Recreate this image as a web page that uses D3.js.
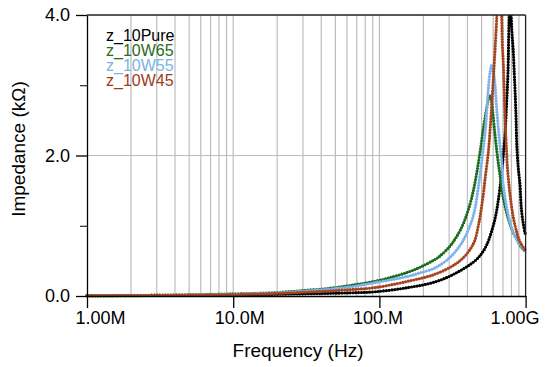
<!DOCTYPE html>
<html>
<head>
<meta charset="utf-8">
<script src="https://cdn.jsdelivr.net/npm/d3@7"></script>
<style>
  body { margin: 0; background: #fff; }
  text { font-family: "Liberation Sans", Arial, sans-serif; }
</style>
</head>
<body>
<script>
// series names + colours (legend order)
var seriesNames = ["z_10Pure", "z_10W65", "z_10W55", "z_10W45"];
var seriesColors = ["#000000", "#1d6b1d", "#7fb3ec", "#a4441c"];
var legendColors = ["#000000", "#2b6a20", "#79b4e4", "#9c3d1c"];

// frequency in MHz, impedance in kOhm
var fPure = [1, 3, 10, 28.6, 62.9, 93.3, 157, 240, 329, 450, 514, 553, 571, 618, 650, 686, 704, 723, 742, 758, 770, 785, 803, 824, 837, 846, 860, 869, 878, 892, 916, 926, 940, 964, 991, 1000];
var zPure = [0.004, 0.008, 0.015, 0.03, 0.045, 0.06, 0.12, 0.2, 0.32, 0.5, 0.64, 0.77, 0.85, 1.1, 1.36, 1.75, 2.0, 2.3, 2.75, 3.2, 3.9, 4.4, 3.83, 3.47, 3.16, 2.95, 2.55, 2.19, 2.01, 1.81, 1.58, 1.39, 1.2, 1.03, 0.9, 0.87];

var fW65 = [1, 3, 10, 20, 28.6, 45.9, 62.9, 93.3, 118, 157, 190, 240, 260, 304, 329, 356, 385, 417, 439, 463, 488, 514, 542, 556, 565, 582, 596, 618, 640, 668, 704, 761, 824, 877, 916, 958, 1000];
var zW65 = [0.006, 0.012, 0.03, 0.05, 0.075, 0.11, 0.15, 0.21, 0.26, 0.34, 0.41, 0.52, 0.57, 0.71, 0.81, 0.93, 1.09, 1.31, 1.5, 1.75, 2.05, 2.38, 2.68, 2.8, 2.86, 2.8, 2.62, 2.29, 2.01, 1.72, 1.39, 1.1, 0.9, 0.8, 0.72, 0.67, 0.63];

var fW55 = [1, 3, 10, 28.6, 62.9, 93.3, 157, 190, 240, 304, 356, 385, 428, 451, 475, 501, 528, 542, 556, 571, 586, 602, 618, 634, 661, 686, 704, 761, 824, 916, 1000];
var zW55 = [0.005, 0.01, 0.025, 0.065, 0.13, 0.19, 0.28, 0.33, 0.4, 0.55, 0.72, 0.84, 1.07, 1.25, 1.55, 1.91, 2.32, 2.62, 2.95, 3.18, 3.28, 3.2, 3.0, 2.67, 2.24, 1.91, 1.58, 1.15, 0.9, 0.73, 0.64];

var fW45 = [1, 3, 10, 28.6, 62.9, 93.3, 157, 240, 329, 385, 428, 451, 475, 488, 514, 527, 556, 571, 586, 600, 618, 634, 660, 686, 693, 704, 715, 723, 734, 742, 749, 782, 824, 870, 916, 1000];
var zW45 = [0.004, 0.008, 0.02, 0.05, 0.09, 0.12, 0.21, 0.31, 0.45, 0.57, 0.7, 0.8, 1.0, 1.13, 1.45, 1.65, 2.05, 2.35, 2.7, 3.05, 3.5, 3.93, 4.6, 3.97, 3.59, 3.3, 2.86, 2.52, 2.24, 2.05, 1.86, 1.45, 1.12, 0.91, 0.77, 0.65];

// axis ticks
var xTickValues = [1e6, 1e7, 1e8, 1e9];
var xTickLabels = ["1.00M", "10.0M", "100.M", "1.00G"];
var yTickValues = [0, 2, 4];
var yMinorTicks = [1, 3];

var freqs = [fPure, fW65, fW55, fW45];
var imps = [zPure, zW65, zW55, zW45];

// set the dimensions and margins of the graph
var margin = {top: 15, right: 24.4, bottom: 71, left: 87},
    width = 550 - margin.left - margin.right,
    height = 367 - margin.top - margin.bottom;

var x = d3.scaleLog().domain([1e6, 1e9]).range([0, width]);
var y = d3.scaleLinear().domain([0, 4]).range([height, 0]);

var svg = d3.select("body").append("svg")
    .attr("width", 550)
    .attr("height", 367)
    .style("background", "#fff")
  .append("g")
    .attr("transform", "translate(" + margin.left + "," + margin.top + ")");

svg.append("clipPath").attr("id", "plot-clip")
  .append("rect")
    .attr("x", -3).attr("y", 0)
    .attr("width", width + 6).attr("height", height + 3);

// vertical grid at every log tick inside the range
svg.append("g").selectAll("line")
    .data(x.ticks().filter(function(d) { return d > 1e6 && d < 1e9; }))
  .enter().append("line")
    .attr("x1", function(d) { return x(d); })
    .attr("x2", function(d) { return x(d); })
    .attr("y1", 0).attr("y2", height)
    .style("stroke", "#bdbdbd").style("stroke-width", 1.2);

// horizontal grid at 2.0
svg.append("line")
    .attr("x1", 0).attr("x2", width)
    .attr("y1", y(2)).attr("y2", y(2))
    .style("stroke", "#bdbdbd").style("stroke-width", 1.2);

// the curves, drawn as dotted traces
var line = d3.line()
    .x(function(d) { return x(d[0] * 1e6); })
    .y(function(d) { return y(d[1]); })
    .curve(d3.curveCatmullRom.alpha(0.5));

var traces = svg.append("g").attr("clip-path", "url(#plot-clip)");
seriesNames.forEach(function(name, i) {
  var pts = freqs[i].map(function(f, j) { return [f, imps[i][j]]; });
  traces.append("path")
      .datum(pts)
      .attr("d", line)
      .style("fill", "none")
      .style("stroke", seriesColors[i])
      .style("stroke-width", 3.2)
      .style("stroke-linecap", "round")
      .style("stroke-dasharray", "0 2.8");
});

// x axis
var xAxis = svg.append("g")
    .attr("transform", "translate(0," + height + ")")
    .call(d3.axisBottom(x)
        .tickValues(xTickValues)
        .tickFormat(function(d, i) { return xTickLabels[i]; })
        .tickSize(12).tickPadding(3).tickSizeOuter(0));
var labelShift = [13, 6, -2, -11];
xAxis.selectAll("text")
    .attr("dx", function(d, i) { return labelShift[i]; })
    .style("font-size", "18px").style("fill", "#000");

// y axis
var yAxis = svg.append("g")
    .call(d3.axisLeft(y)
        .tickValues(yTickValues)
        .tickFormat(d3.format(".1f"))
        .tickSize(11).tickPadding(6).tickSizeOuter(0));
yAxis.selectAll("text").style("font-size", "18px").style("fill", "#000");

svg.append("g")
    .call(d3.axisLeft(y).tickValues(yMinorTicks).tickFormat("").tickSize(7).tickSizeOuter(0))
    .select(".domain").remove();

[xAxis, yAxis].forEach(function(a) {
  a.selectAll("line, path").style("stroke", "#000").style("stroke-width", 1.3);
});

// frame top + right
svg.append("line").attr("x1", 0).attr("x2", width).attr("y1", 0).attr("y2", 0)
    .style("stroke", "#222").style("stroke-width", 1.3);
svg.append("line").attr("x1", width).attr("x2", width).attr("y1", 0).attr("y2", height)
    .style("stroke", "#222").style("stroke-width", 1.3);

// axis titles
svg.append("text")
    .attr("x", 298 - margin.left)
    .attr("y", 357 - margin.top)
    .attr("text-anchor", "middle")
    .style("font-size", "19px")
    .text("Frequency (Hz)");

svg.append("text")
    .attr("transform", "translate(" + (25 - margin.left) + "," + (149 - margin.top) + ") rotate(-90)")
    .attr("text-anchor", "middle")
    .style("font-size", "19px")
    .text("Impedance (k\u03A9)");

// legend
var legendY = [41, 56, 71, 86];
svg.append("g").selectAll("text")
    .data(seriesNames)
  .enter().append("text")
    .attr("x", 106 - margin.left)
    .attr("y", function(d, i) { return legendY[i] - margin.top; })
    .style("font-size", "16px")
    .style("fill", function(d, i) { return legendColors[i]; })
    .text(function(d) { return d; });
</script>
</body>
</html>
